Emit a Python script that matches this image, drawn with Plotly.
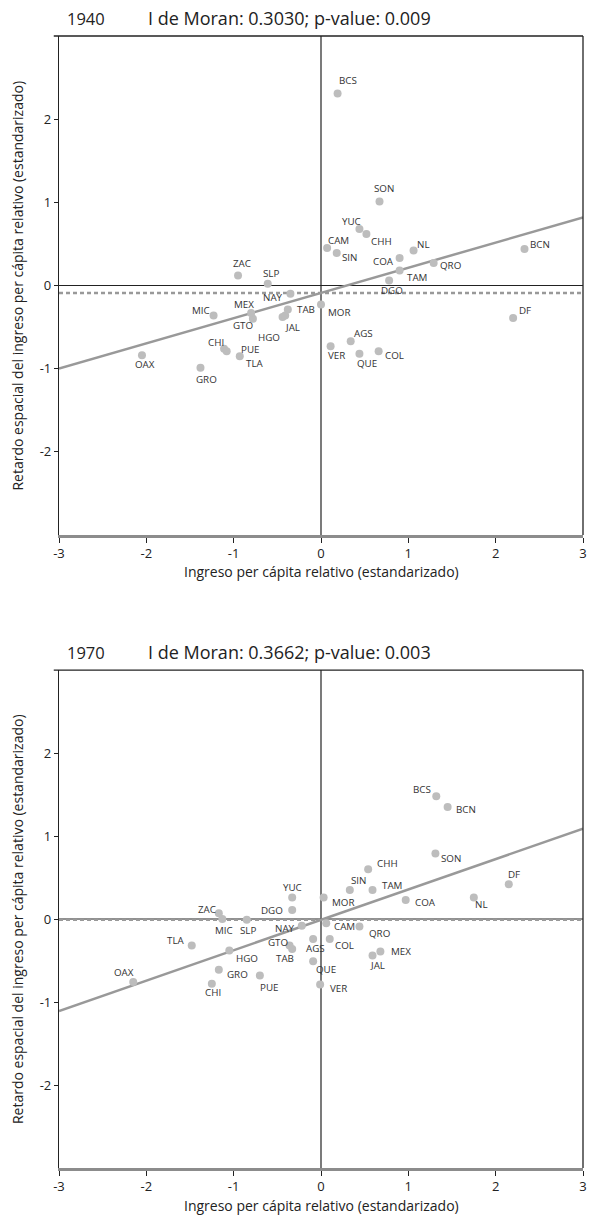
import plotly.graph_objects as go

# ---------------- data ----------------
states = ["AGS", "BCN", "BCS", "CAM", "COA", "COL", "CHI", "CHH", "DF", "DGO",
          "GTO", "GRO", "HGO", "JAL", "MEX", "MIC", "MOR", "NAY", "NL", "OAX",
          "PUE", "QRO", "QUE", "SLP", "SIN", "SON", "TAB", "TAM", "TLA", "VER",
          "YUC", "ZAC"]

x_1940 = [0.34, 2.33, 0.19, 0.07, 0.90, 0.66, -1.11, 0.52, 2.20, 0.78,
          -0.78, -1.38, -0.44, -0.41, -0.80, -1.23, 0.00, -0.35, 1.06, -2.05,
          -1.08, 1.29, 0.44, -0.61, 0.18, 0.67, -0.38, 0.90, -0.93, 0.11,
          0.44, -0.95]
lag_1940 = [-0.67, 0.44, 2.31, 0.45, 0.33, -0.79, -0.76, 0.62, -0.39, 0.06,
            -0.40, -0.99, -0.38, -0.36, -0.33, -0.36, -0.23, -0.10, 0.42, -0.84,
            -0.79, 0.27, -0.82, 0.02, 0.39, 1.01, -0.29, 0.18, -0.85, -0.73,
            0.68, 0.12]

x_1970 = [-0.09, 1.45, 1.32, 0.06, 0.97, 0.10, -1.25, 0.54, 2.15, -0.33,
          -0.36, -1.17, -1.05, 0.59, 0.68, -1.13, 0.03, -0.22, 1.75, -2.15,
          -0.70, 0.44, -0.09, -0.85, 0.33, 1.31, -0.33, 0.59, -1.48, -0.01,
          -0.33, -1.17]
lag_1970 = [-0.24, 1.35, 1.48, -0.05, 0.23, -0.24, -0.78, 0.60, 0.42, 0.11,
            -0.32, -0.61, -0.38, -0.44, -0.39, 0.00, 0.26, -0.08, 0.26, -0.76,
            -0.68, -0.09, -0.51, -0.01, 0.35, 0.79, -0.36, 0.35, -0.32, -0.79,
            0.26, 0.07]

years = ["1940", "1970"]
moran_i = [0.3030, 0.3662]
p_values = [0.009, 0.003]
lag_mean = [-0.09, -0.01]

x_ticks = [-3, -2, -1, 0, 1, 2, 3]
y_ticks = [-2, -1, 0, 1, 2]

# ---------------- label offsets (px: dx right, dy down) ----------------
off_1940 = {"AGS": (13, -8), "BCN": (16, -4), "BCS": (10, -13), "CAM": (11, -8),
            "COA": (-16, 3), "COL": (16, 4), "CHI": (-8, -6), "CHH": (15, 8),
            "DF": (12, -7), "DGO": (3, 10), "GTO": (-9, 7), "GRO": (6, 12),
            "HGO": (-14, 20), "JAL": (7, 12), "MEX": (-7, -8), "MIC": (-13, -5),
            "MOR": (18, 8), "NAY": (-17, 4), "NL": (10, -6), "OAX": (3, 9),
            "PUE": (23, -2), "QRO": (17, 2), "QUE": (8, 10), "SLP": (3, -10),
            "SIN": (13, 4), "SON": (4, -13), "TAB": (18, 0), "TAM": (17, 7),
            "TLA": (15, 7), "VER": (6, 9), "YUC": (-8, -7), "ZAC": (4, -12)}
off_1970 = {"AGS": (2, 10), "BCN": (18, 3), "BCS": (-14, -7), "CAM": (18, 3),
            "COA": (20, 3), "COL": (15, 7), "CHI": (1, 9), "CHH": (19, -6),
            "DF": (5, -10), "DGO": (-20, 1), "GTO": (-11, -3), "GRO": (19, 5),
            "HGO": (18, 8), "JAL": (5, 10), "MEX": (21, 0), "MIC": (2, 11),
            "MOR": (19, 5), "NAY": (-17, 3), "NL": (8, 7), "OAX": (-9, -10),
            "PUE": (9, 12), "QRO": (21, 7), "QUE": (13, 8), "SLP": (1, 11),
            "SIN": (9, -9), "SON": (16, 5), "TAB": (-7, 10), "TAM": (19, -4),
            "TLA": (-16, -5), "VER": (18, 4), "YUC": (0, -10), "ZAC": (-12, -4)}

FONT = "Open Sans"
fig = go.Figure()

panels = [
    dict(x=x_1940, y=lag_1940, off=off_1940, xa="x", ya="y", dom=[0.5592, 1.0]),
    dict(x=x_1970, y=lag_1970, off=off_1970, xa="x2", ya="y2", dom=[0.0, 0.4399]),
]

shapes = []
annotations = []
for k, p in enumerate(panels):
    xa, ya = p["xa"], p["ya"]
    # regression line through the mean with slope = Moran's I
    lx = [-3, 3]
    ly = [lag_mean[k] + moran_i[k] * v for v in lx]
    fig.add_trace(go.Scatter(x=lx, y=ly, mode="lines", xaxis=xa, yaxis=ya,
                             line=dict(color="#999999", width=2.5),
                             hoverinfo="skip", showlegend=False))
    fig.add_trace(go.Scatter(x=p["x"], y=p["y"], mode="markers", xaxis=xa, yaxis=ya,
                             marker=dict(color="#bdbdbd", size=8),
                             text=states, showlegend=False))
    # zero lines
    shapes.append(dict(type="line", xref=xa, yref=ya, x0=0, x1=0, y0=-3, y1=3,
                       line=dict(color="#222222", width=1.2), layer="below"))
    shapes.append(dict(type="line", xref=xa, yref=ya, x0=-3, x1=3, y0=0, y1=0,
                       line=dict(color="#222222", width=1.2), layer="below"))
    # mean of lag (dashed)
    shapes.append(dict(type="line", xref=xa, yref=ya, x0=-3, x1=3,
                       y0=lag_mean[k], y1=lag_mean[k],
                       line=dict(color="#999999", width=2.3, dash="4px,3px"), layer="below"))
    # frame: top and right
    shapes.append(dict(type="line", xref=xa + " domain", yref=ya + " domain",
                       x0=-0.01, x1=1, y0=1, y1=1, line=dict(color="#222222", width=1.3)))
    shapes.append(dict(type="line", xref=xa + " domain", yref=ya + " domain",
                       x0=1, x1=1, y0=0, y1=1, line=dict(color="#222222", width=1.3)))
    # labels
    for s, xv, yv in zip(states, p["x"], p["y"]):
        dx, dy = p["off"][s]
        annotations.append(dict(x=xv, y=yv, xref=xa, yref=ya, text=s, showarrow=False,
                                xshift=dx, yshift=-dy,
                                font=dict(family=FONT, size=9.8, color="#333333")))
    # titles
    ytop = p["dom"][1]
    annotations.append(dict(x=0.0115, y=ytop, xref="paper", yref="paper", yshift=18,
                            text=years[k], showarrow=False, xanchor="left", yanchor="middle",
                            font=dict(family=FONT, size=16.5, color="#222222")))
    annotations.append(dict(x=0.166, y=ytop, xref="paper", yref="paper", yshift=18,
                            text=f"I de Moran: {moran_i[k]:.4f}; p-value: {p_values[k]:.3f}",
                            showarrow=False, xanchor="left", yanchor="middle",
                            font=dict(family=FONT, size=18, color="#222222")))
    # axis titles
    annotations.append(dict(x=0.5, y=p["dom"][0], xref="paper", yref="paper", yshift=-37,
                            text="Ingreso per cápita relativo (estandarizado)",
                            showarrow=False, xanchor="center", yanchor="middle",
                            font=dict(family=FONT, size=14, color="#222222")))
    annotations.append(dict(x=-0.080, y=(p["dom"][0] + p["dom"][1]) / 2, xref="paper", yref="paper",
                            text="Retardo espacial del ingreso per cápita relativo (estandarizado)",
                            showarrow=False, textangle=-90, xanchor="center", yanchor="middle",
                            font=dict(family=FONT, size=14, color="#222222")))

xaxis_common = dict(range=[-3, 3], tickvals=x_ticks, ticktext=[str(v) for v in x_ticks],
                    showgrid=False, zeroline=False, showline=True, linecolor="#8c8c8c",
                    linewidth=2.5, ticks="outside", ticklen=5, tickcolor="#222222",
                    automargin=False,
                    tickfont=dict(family=FONT, size=13, color="#222222"))
yaxis_common = dict(range=[-3, 3], tickvals=y_ticks, ticktext=[str(v) for v in y_ticks],
                    showgrid=False, zeroline=False, showline=True, linecolor="#222222",
                    linewidth=1.3, ticks="outside", ticklen=4, tickcolor="#222222",
                    automargin=False,
                    tickfont=dict(family=FONT, size=13, color="#222222"))

fig.update_layout(
    width=589, height=1215,
    margin=dict(l=59, r=6, t=36, b=47, autoexpand=False),
    plot_bgcolor="white", paper_bgcolor="white",
    xaxis=dict(domain=[0, 1], anchor="y", **xaxis_common),
    yaxis=dict(domain=panels[0]["dom"], anchor="x", **yaxis_common),
    xaxis2=dict(domain=[0, 1], anchor="y2", **xaxis_common),
    yaxis2=dict(domain=panels[1]["dom"], anchor="x2", **yaxis_common),
    shapes=shapes, annotations=annotations,
    showlegend=False,
)

fig.write_html("out.html", config={"displayModeBar": False},
               post_script="document.body.style.margin='0';document.body.style.overflow='hidden';")
